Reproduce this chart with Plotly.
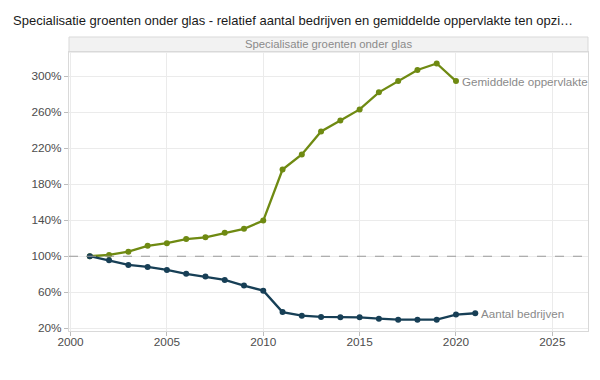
import plotly.graph_objects as go

years_bedrijven = list(range(2001, 2022))
aantal_bedrijven = [100, 95.6, 90.4, 88.1, 84.8, 80.5, 77.4, 73.7, 67.4, 61.8,
                    38.0, 34.0, 32.6, 32.2, 32.2, 30.7, 29.6, 29.6, 29.6, 35.2, 36.7]
years_opp = list(range(2001, 2021))
gem_oppervlakte = [100, 101.5, 105, 111.5, 114.5, 119, 121, 126, 130.4, 139.6,
                   196.3, 213, 238.5, 250.7, 263, 281.9, 294.6, 306.7, 314, 294.4]

y_ticks = [20, 60, 100, 140, 180, 220, 260, 300]
y_tick_labels = [f"{v}%" for v in y_ticks]
x_ticks = [2000, 2005, 2010, 2015, 2020, 2025]

title_text = "Specialisatie groenten onder glas - relatief aantal bedrijven en gemiddelde oppervlakte ten opzi…"
strip_text = "Specialisatie groenten onder glas"

green = "#6f8a12"
blue = "#173f56"

fig = go.Figure()
fig.add_trace(go.Scatter(x=years_opp, y=gem_oppervlakte, mode="lines+markers",
                         line=dict(color=green, width=2.3), marker=dict(size=6, color=green),
                         showlegend=False, hoverinfo="skip"))
fig.add_trace(go.Scatter(x=years_bedrijven, y=aantal_bedrijven, mode="lines+markers",
                         line=dict(color=blue, width=2.3), marker=dict(size=6, color=blue),
                         showlegend=False, hoverinfo="skip"))

# reference line at 100%
fig.add_hline(y=100, line=dict(color="#9a9a9a", width=1.2, dash="dash"))

# end labels
fig.add_annotation(x=years_opp[-1], y=gem_oppervlakte[-1], text="Gemiddelde oppervlakte",
                   xanchor="left", yanchor="middle", showarrow=False, xshift=4,
                   font=dict(size=11.6, color="#8a8a8a"))
fig.add_annotation(x=years_bedrijven[-1], y=aantal_bedrijven[-1], text="Aantal bedrijven",
                   xanchor="left", yanchor="middle", showarrow=False, xshift=4,
                   font=dict(size=11.6, color="#8a8a8a"))

dom_top = 279 / 294
# strip
fig.add_shape(type="rect", xref="paper", yref="paper", x0=0, x1=1, y0=dom_top, y1=1,
              fillcolor="#f2f2f2", line=dict(color="#d9d9d9", width=1), layer="below")
fig.add_annotation(xref="paper", yref="paper", x=0.5, y=(dom_top + 1) / 2, text=strip_text,
                   showarrow=False, xanchor="center", yanchor="middle",
                   font=dict(size=11.3, color="#8a8a8a"))

fig.update_layout(
    width=600, height=380,
    margin=dict(l=69, r=12, t=37, b=49),
    paper_bgcolor="white", plot_bgcolor="white",
    font=dict(family="Liberation Sans, Arial, sans-serif"),
    title=dict(text=title_text, xref="container", yref="container", x=13 / 600, y=1 - 20 / 380,
               xanchor="left", yanchor="middle", font=dict(size=13, color="#1a1a1a")),
)
fig.update_xaxes(range=[1999.92, 2026.85], tickvals=x_ticks, showgrid=True, gridcolor="#ebebeb",
                 gridwidth=1, zeroline=False, showline=True, linecolor="#d9d9d9", mirror=True,
                 ticks="outside", ticklen=4, tickcolor="#bdbdbd", ticklabelstandoff=-4,
                 tickfont=dict(size=11.8, color="#4d4d4d"))
fig.update_yaxes(range=[17, 326.7], tickvals=y_ticks, ticktext=y_tick_labels, domain=[0, dom_top],
                 showgrid=True, gridcolor="#ebebeb", gridwidth=1, zeroline=False, showline=True,
                 linecolor="#d9d9d9", mirror=True, ticks="outside", ticklen=4, tickcolor="#bdbdbd",
                 tickfont=dict(size=11.8, color="#4d4d4d"))

fig.write_html("out.html", config={"displayModeBar": False},
               post_script="document.body.style.margin='0';")
